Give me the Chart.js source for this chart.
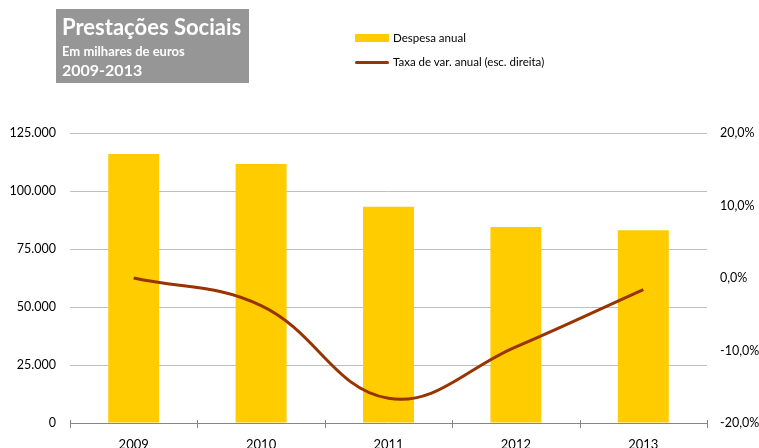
<!DOCTYPE html>
<html>
<head>
<meta charset="utf-8">
<script src="https://cdn.jsdelivr.net/npm/chart.js@4/dist/chart.umd.min.js"></script>
<style>
  html, body { margin: 0; padding: 0; background: #fff; }
  #wrap { position: relative; width: 759px; height: 448px; overflow: hidden; font-family: Lato, 'Open Sans', sans-serif; }
  #grafico { position: absolute; left: 0; top: 0; }
  .caixa-titulo { position: absolute; left: 56px; top: 9px; width: 193px; height: 74px; background: #969696; color: #fff; font-weight: bold; }
  .caixa-titulo div { position: absolute; left: 6px; white-space: nowrap; }
  .t1 { top: 5px; font-size: 22px; line-height: 26px; }
  .t2 { top: 35px; font-size: 13px; line-height: 15px; }
  .t3 { top: 51px; font-size: 16px; line-height: 20px; }
  .legenda { position: absolute; left: 355px; font-size: 11.5px; color: #000; white-space: nowrap; }
  .legenda span { position: absolute; left: 38px; top: -7px; line-height: 14px; }
  .leg-barra { top: 38px; }
  .leg-barra i { position: absolute; left: 0; top: -4px; width: 34px; height: 8px; background: #ffcc00; }
  .leg-linha { top: 62px; }
  .leg-linha i { position: absolute; left: 0; top: -1.5px; width: 34px; height: 3px; background: #993300; border-radius: 2px; }
</style>
</head>
<body>
<div id="wrap">
  <canvas id="grafico" width="759" height="448"></canvas>
  <div class="caixa-titulo">
    <div class="t1">Prestações Sociais</div>
    <div class="t2">Em milhares de euros</div>
    <div class="t3">2009-2013</div>
  </div>
  <div class="legenda leg-barra"><i></i><span>Despesa anual</span></div>
  <div class="legenda leg-linha"><i></i><span>Taxa de var. anual (esc. direita)</span></div>
</div>
<script>
// anos e valores (milhares de euros) / taxa de variação anual (%)
const anos = ['2009', '2010', '2011', '2012', '2013'];
const despesaAnual = [116000, 111600, 93200, 84500, 83100];
const taxaVariacao = [0.0, -3.8, -16.6, -9.5, -1.6];

const FONTE = "Lato, 'Open Sans', sans-serif";
const COR_GRELHA = '#bfbfbf';
const COR_EIXO = '#868686';

// formato português: 125.000 e 20,0%
const fmtMilhares = (v) => Math.round(v).toString().replace(/\B(?=(\d{3})+(?!\d))/g, '.');
const fmtPercent = (v) => v.toFixed(1).replace('.', ',') + '%';

// marcas do eixo X atravessam a linha do eixo
const pluginMarcasX = {
  id: 'pluginMarcasX',
  afterDraw(chart) {
    const { ctx, chartArea } = chart;
    const { left, right, bottom } = chartArea;
    const n = anos.length;
    ctx.save();
    ctx.strokeStyle = COR_EIXO;
    ctx.lineWidth = 1;
    ctx.beginPath();
    ctx.moveTo(left, bottom + 0.5);
    ctx.lineTo(right, bottom + 0.5);
    for (let i = 0; i <= n; i++) {
      const x = Math.round(left + (right - left) * i / n) + 0.5;
      ctx.moveTo(x, bottom - 3);
      ctx.lineTo(x, bottom + 5);
    }
    ctx.stroke();
    ctx.restore();
  },
};

new Chart(document.getElementById('grafico'), {
  data: {
    labels: anos,
    datasets: [
      {
        type: 'line',
        label: 'Taxa de var. anual (esc. direita)',
        data: taxaVariacao,
        yAxisID: 'y1',
        borderColor: '#993300',
        borderWidth: 3,
        pointRadius: 0,
        tension: 0.4,
        order: 0,
      },
      {
        type: 'bar',
        label: 'Despesa anual',
        data: despesaAnual,
        yAxisID: 'y',
        backgroundColor: '#ffcc00',
        categoryPercentage: 1,
        barPercentage: 0.4,
        order: 1,
      },
    ],
  },
  options: {
    responsive: false,
    animation: false,
    layout: { padding: { top: 133, left: 0, right: 0, bottom: 0 } },
    scales: {
      x: {
        offset: true,
        grid: { display: false },
        border: { display: false },
        ticks: { color: '#000', font: { family: FONTE, size: 13 }, padding: 6 },
        afterFit: (s) => { s.height = 25; },
      },
      y: {
        position: 'left',
        min: 0,
        max: 125000,
        ticks: { stepSize: 25000, color: '#000', font: { family: FONTE, size: 12.5 }, padding: 14, callback: fmtMilhares },
        grid: { color: COR_GRELHA, drawTicks: false },
        border: { display: false },
        afterFit: (s) => { s.width = 70; },
      },
      y1: {
        position: 'right',
        min: -20,
        max: 20,
        ticks: { stepSize: 10, color: '#000', font: { family: FONTE, size: 12.5 }, padding: 13, callback: fmtPercent },
        grid: { drawOnChartArea: false, drawTicks: false },
        border: { display: false },
        afterFit: (s) => { s.width = 52; },
      },
    },
    plugins: {
      legend: { display: false },
      tooltip: { enabled: false },
    },
  },
  plugins: [pluginMarcasX],
});
</script>
</body>
</html>
